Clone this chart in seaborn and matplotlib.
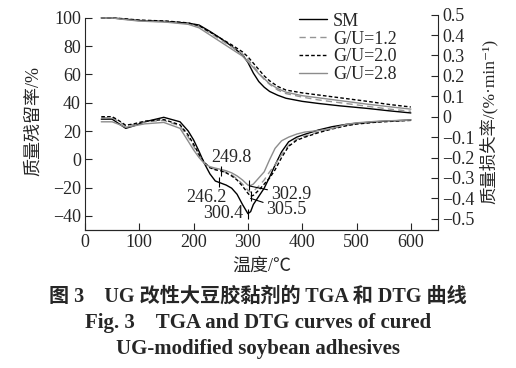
import numpy as np
import pandas as pd
import matplotlib
matplotlib.use("Agg")
import matplotlib.pyplot as plt
import seaborn as sns
from matplotlib.lines import Line2D

# ---- data ----
series = ["SM", "G/U=1.2", "G/U=2.0", "G/U=2.8"]

# TGA: mass residue (%), left axis
t_tga = [30, 50, 70, 100, 150, 190, 210, 230, 250, 270, 290, 300, 310, 320,
         330, 340, 355, 370, 400, 430, 470, 520, 560, 600]
tga_sm = [100, 100, 99.3, 98.2, 97.5, 96.3, 95.0, 90.5, 85.5, 80, 74, 68.5, 61,
          55, 51, 48, 45.3, 43.2, 41, 39.5, 37.8, 36, 34.3, 32.8]
tga_12 = [100, 100, 99.2, 98, 97.3, 96, 94, 89.5, 84.5, 79.5, 74.5, 70.5, 66,
          61, 56.5, 53, 49, 46.5, 44, 42, 40, 37.5, 35.5, 34]
tga_20 = [100, 100, 99.5, 98.5, 97.8, 96.5, 94.5, 90, 85.5, 81, 76, 72.5, 68,
          63.5, 59, 55.5, 51.5, 49, 47, 45.5, 43.5, 41, 38.8, 37]
tga_28 = [100, 100, 99.0, 97.8, 97, 95.5, 93, 88, 83, 78, 73, 69, 65, 60.5,
          57, 53.5, 50, 47.5, 45, 43.5, 41.5, 39, 37.2, 35.5]

# DTG: mass loss rate (%/min), right axis
t_dtg = [30, 50, 60, 75, 90, 110, 145, 175, 190, 200, 210, 220, 230, 240, 250,
         260, 270, 280, 290, 300, 305, 310, 320, 330, 340, 350, 362, 375, 390,
         405, 430, 455, 480, 500, 540, 600]
dtg_sm = [-0.012, -0.012, -0.03, -0.057, -0.045, -0.025, -0.003, -0.025, -0.07,
          -0.114, -0.17, -0.23, -0.28, -0.315, -0.325, -0.335, -0.35, -0.38,
          -0.43, -0.475, -0.465, -0.43, -0.39, -0.35, -0.295, -0.237, -0.172,
          -0.123, -0.1, -0.086, -0.065, -0.049, -0.038, -0.032, -0.024, -0.016]
dtg_12 = [-0.005, -0.005, -0.02, -0.045, -0.038, -0.025, -0.018, -0.045, -0.1,
          -0.145, -0.19, -0.225, -0.248, -0.258, -0.265, -0.272, -0.285, -0.305,
          -0.33, -0.36, -0.37, -0.365, -0.34, -0.31, -0.27, -0.235, -0.185,
          -0.14, -0.11, -0.095, -0.075, -0.058, -0.043, -0.034, -0.025, -0.017]
dtg_20 = [0.0, 0.0, -0.015, -0.042, -0.035, -0.022, -0.014, -0.04, -0.09,
          -0.135, -0.185, -0.225, -0.25, -0.26, -0.265, -0.275, -0.29, -0.31,
          -0.34, -0.375, -0.39, -0.385, -0.36, -0.33, -0.3, -0.26, -0.2,
          -0.145, -0.115, -0.1, -0.078, -0.06, -0.045, -0.036, -0.026, -0.018]
dtg_28 = [-0.025, -0.025, -0.035, -0.052, -0.045, -0.035, -0.028, -0.057, -0.12,
          -0.163, -0.2, -0.23, -0.245, -0.252, -0.258, -0.265, -0.275, -0.29,
          -0.31, -0.335, -0.337, -0.33, -0.3, -0.27, -0.21, -0.155, -0.118,
          -0.1, -0.085, -0.075, -0.068, -0.058, -0.038, -0.03, -0.022, -0.016]

# peak temperatures marked on the DTG curves
peak_t = [246.2, 249.8, 300.4, 302.9, 305.5]
peak_of = ["SM", "G/U=2.0", "SM", "G/U=2.8", "G/U=2.0"]

x_ticks = [0, 100, 200, 300, 400, 500, 600]
left_ticks = [100, 80, 60, 40, 20, 0, -20, -40]
right_ticks = [0.5, 0.4, 0.3, 0.2, 0.1, 0, -0.1, -0.2, -0.3, -0.4, -0.5]
right_labels = ["0.5", "0.4", "0.3", "0.2", "0.1", "0", "\u22120.1", "\u22120.2",
                "\u22120.3", "\u22120.4", "\u22120.5"]

tga = pd.DataFrame({"T": t_tga * 4,
                    "v": tga_sm + tga_12 + tga_20 + tga_28,
                    "s": sum([[s] * len(t_tga) for s in series], [])})
dtg = pd.DataFrame({"T": t_dtg * 4,
                    "v": dtg_sm + dtg_12 + dtg_20 + dtg_28,
                    "s": sum([[s] * len(t_dtg) for s in series], [])})

# ---- style ----
sns.set_style("ticks")
serif = ["Liberation Serif", "Noto Sans CJK SC", "DejaVu Sans"]
plt.rcParams["font.family"] = serif
plt.rcParams["axes.unicode_minus"] = True

styles = {
    "SM": dict(color="black", ls="-"),
    "G/U=1.2": dict(color="#959595", ls=(0, (4.5, 3))),
    "G/U=2.0": dict(color="black", ls=(0, (2.6, 1.6))),
    "G/U=2.8": dict(color="#8c8c8c", ls="-"),
}
lw = 1.0
fs = 13

fig = plt.figure(figsize=(5.16, 3.68), dpi=100)
ax = fig.add_axes([85 / 516, 138 / 368, 353 / 516, 217 / 368])
ax2 = ax.twinx()

for s in series:
    sub = tga[tga["s"] == s]
    sns.lineplot(data=sub, x="T", y="v", ax=ax, color=styles[s]["color"],
                 linestyle=styles[s]["ls"], linewidth=lw, legend=False)
    sub = dtg[dtg["s"] == s]
    sns.lineplot(data=sub, x="T", y="v", ax=ax2, color=styles[s]["color"],
                 linestyle=styles[s]["ls"], linewidth=lw, legend=False)

ax.set_xlim(0, 650)
ax.set_ylim(-50, 103.5)
ax2.set_ylim(-0.555, 0.508)

ax.set_xticks(x_ticks)
ax.set_yticks(left_ticks)
ax2.set_yticks(right_ticks)
ax2.set_yticklabels(right_labels)

for a in (ax, ax2):
    a.spines["top"].set_visible(False)
    a.tick_params(direction="in", length=5, width=0.8, labelsize=fs, pad=3)
ax.spines["left"].set_bounds(-50, 100)
ax2.spines["right"].set_bounds(-0.555, 0.5)
ax2.spines["left"].set_visible(False)
ax.spines["right"].set_visible(False)

ax.set_xlabel("温度/\u2103", fontsize=13, labelpad=5)
ax.set_ylabel("质量残留率/%", fontsize=13, labelpad=8)
ax2.set_ylabel("质量损失率/(%\u00b7min\u207b\u00b9)", fontsize=12.5, labelpad=3)

# peak markers
for t, s in zip(peak_t, peak_of):
    sub = dtg[dtg["s"] == s]
    y = np.interp(t, sub["T"], sub["v"])
    ax2.plot([t], [y], marker="|", markersize=7, color="black", mew=0.8)

ax2.text(270, -0.198, "249.8", fontsize=fs, ha="center", va="center")
ax2.text(224, -0.394, "246.2", fontsize=fs, ha="center", va="center")
ax2.text(254, -0.472, "300.4", fontsize=fs, ha="center", va="center")
ax2.annotate("302.9", xy=(304, -0.34), xytext=(342, -0.382), fontsize=fs,
             ha="left", va="center",
             arrowprops=dict(arrowstyle="-", lw=0.8, color="black",
                             shrinkA=0, shrinkB=0))
ax2.annotate("305.5", xy=(305, -0.40), xytext=(334, -0.457), fontsize=fs,
             ha="left", va="center",
             arrowprops=dict(arrowstyle="-", lw=0.8, color="black",
                             shrinkA=0, shrinkB=0))

handles = [Line2D([], [], color=styles[s]["color"], linestyle=styles[s]["ls"],
                  linewidth=lw) for s in series]
ax.legend(handles, series, loc="upper left", bbox_to_anchor=(0.6, 1.01),
          frameon=False, fontsize=fs, handlelength=1.55, handletextpad=0.35,
          labelspacing=0.05, borderpad=0.1, borderaxespad=0)

# caption
fig.text(0.5, 1 - 297 / 368, "图 3\u3000UG 改性大豆胶黏剂的 TGA 和 DTG 曲线",
         ha="center", va="center", fontsize=14.5, fontweight="bold",
         family=["Liberation Serif", "Noto Sans CJK SC"])
fig.text(0.5, 1 - 323 / 368, "Fig. 3\u2003TGA and DTG curves of cured",
         ha="center", va="center", fontsize=15, fontweight="bold",
         family=["Liberation Serif"])
fig.text(0.5, 1 - 349 / 368, "UG-modified soybean adhesives",
         ha="center", va="center", fontsize=15, fontweight="bold",
         family=["Liberation Serif"])

fig.savefig("out.png", dpi=100)
